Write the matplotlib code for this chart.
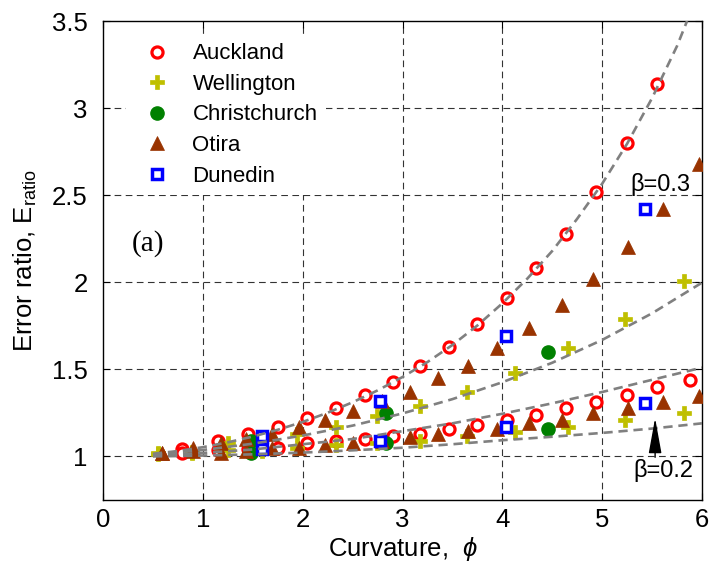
import matplotlib
matplotlib.use("Agg")
import matplotlib.pyplot as plt

plt.rcParams['font.family'] = ['Liberation Sans', 'DejaVu Sans']
plt.rcParams['mathtext.fontset'] = 'custom'
plt.rcParams['mathtext.rm'] = 'Liberation Sans'
plt.rcParams['mathtext.it'] = 'Liberation Sans:italic'

# ---------------- data ----------------
auck_x_up = [0.79, 1.15, 1.45, 1.75, 2.04, 2.33, 2.62, 2.90, 3.18, 3.47, 3.75, 4.05, 4.34, 4.64, 4.94, 5.25, 5.55]
auck_y_up = [1.04, 1.086, 1.13, 1.167, 1.218, 1.28, 1.35, 1.425, 1.52, 1.63, 1.76, 1.91, 2.08, 2.28, 2.52, 2.80, 3.14]
auck_x_lo = [0.79, 1.15, 1.45, 1.75, 2.04, 2.33, 2.62, 2.90, 3.18, 3.47, 3.75, 4.05, 4.34, 4.64, 4.94, 5.25, 5.55, 5.88]
auck_y_lo = [1.02, 1.035, 1.045, 1.05, 1.075, 1.086, 1.10, 1.12, 1.13, 1.155, 1.18, 1.21, 1.24, 1.276, 1.31, 1.35, 1.40, 1.44]

well_x = [0.55, 0.89, 1.25, 1.59, 1.94, 2.33, 2.74, 3.18, 3.65, 4.13, 4.66, 5.23, 5.82]
well_y_up = [1.02, 1.025, 1.075, 1.10, 1.126, 1.17, 1.23, 1.29, 1.37, 1.48, 1.62, 1.79, 2.01]
well_y_lo = [1.015, 1.02, 1.035, 1.03, 1.046, 1.063, 1.075, 1.086, 1.115, 1.14, 1.167, 1.21, 1.25]

chch_x = [1.48, 2.83, 4.46]
chch_y_up = [1.09, 1.25, 1.60]
chch_y_lo = [1.02, 1.075, 1.155]

otira_x = [0.59, 0.90, 1.18, 1.43, 1.69, 1.96, 2.22, 2.50, 2.79, 3.07, 3.36, 3.66, 3.95, 4.27, 4.60, 4.91, 5.26, 5.61, 5.97]
otira_y_up = [1.02, 1.046, 1.075, 1.10, 1.13, 1.17, 1.21, 1.26, 1.32, 1.37, 1.45, 1.52, 1.62, 1.74, 1.87, 2.02, 2.20, 2.42, 2.68]
otira_y_lo = [1.017, 1.03, 1.02, 1.03, 1.046, 1.05, 1.063, 1.075, 1.086, 1.11, 1.13, 1.144, 1.16, 1.19, 1.21, 1.25, 1.28, 1.31, 1.345]

dun_x = [1.59, 2.77, 4.04, 5.43]
dun_y_up = [1.115, 1.32, 1.69, 2.42]
dun_y_lo = [1.04, 1.086, 1.17, 1.305]

# dashed reference curves
c1_x = [0.5, 0.75, 1.0, 1.25, 1.5, 1.75, 2.0, 2.25, 2.5, 2.75, 3.0, 3.25, 3.5, 3.75, 4.0, 4.25, 4.5, 4.75, 5.0, 5.25, 5.5, 5.75, 5.85]
c1_y = [1.015, 1.031, 1.053, 1.081, 1.114, 1.153, 1.198, 1.251, 1.311, 1.379, 1.456, 1.542, 1.64, 1.752, 1.879, 2.021, 2.18, 2.365, 2.566, 2.796, 3.058, 3.357, 3.5]
c_x = [0.5, 1.0, 1.5, 2.0, 2.5, 3.0, 3.5, 4.0, 4.5, 5.0, 5.5, 6.0]
c2_y = [1.012, 1.037, 1.073, 1.12, 1.177, 1.247, 1.329, 1.426, 1.538, 1.669, 1.822, 1.998]
c3_y = [1.005, 1.02, 1.04, 1.07, 1.10, 1.145, 1.19, 1.245, 1.305, 1.37, 1.44, 1.51]
c4_y = [1.0, 1.005, 1.012, 1.022, 1.035, 1.05, 1.07, 1.093, 1.113, 1.135, 1.16, 1.19]

x_ticks = [0, 1, 2, 3, 4, 5, 6]
y_ticks = [1, 1.5, 2, 2.5, 3, 3.5]
y_ticklabels = ['1', '1.5', '2', '2.5', '3', '3.5']

# ---------------- figure ----------------
fig = plt.figure(figsize=(7.12, 5.76), dpi=100)
ax = fig.add_axes([0.1447, 0.132, 0.8413, 0.8315])

grid_kw = dict(color='#333333', lw=0.8, ls=(0, (6, 4)), zorder=0.5)
for xv in x_ticks[1:-1]:
    ax.axvline(xv, **grid_kw)
for yv in y_ticks[:-1]:
    ax.axhline(yv, **grid_kw)

red = '#FF0000'; yel = '#BFBF00'; grn = '#008000'; brn = '#993300'; blu = '#0000FF'

def pts(x, y, **kw):
    return ax.plot(x, y, ls='none', zorder=3, **kw)[0]

ka = dict(marker='o', ms=8, mfc='white', mec=red, mew=2.3)
kw_ = dict(marker='P', ms=9.5, mfc=yel, mec=yel, mew=0.5)
kc = dict(marker='o', ms=9.5, mfc=grn, mec=grn)
ko = dict(marker='^', ms=9.5, mfc=brn, mec=brn, mew=0.5)
kd = dict(marker='s', ms=6.5, mfc='white', mec=blu, mew=2.5)

h_a = pts(auck_x_up, auck_y_up, **ka); pts(auck_x_lo, auck_y_lo, **ka)
h_w = pts(well_x, well_y_up, **kw_); pts(well_x, well_y_lo, **kw_)
h_c = pts(chch_x, chch_y_up, **kc); pts(chch_x, chch_y_lo, **kc)
h_o = pts(otira_x, otira_y_up, **ko); pts(otira_x, otira_y_lo, **ko)
h_d = pts(dun_x, dun_y_up, **kd); pts(dun_x, dun_y_lo, **kd)

ckw = dict(color='#808080', lw=1.9, ls=(0, (3.5, 2.2)), zorder=4)
ax.plot(c1_x, c1_y, **ckw)
ax.plot(c_x, c2_y, **ckw)
ax.plot(c_x, c3_y, **ckw)
ax.plot(c_x, c4_y, **ckw)

ax.set_xlim(0, 6)
ax.set_ylim(0.75, 3.5)
ax.set_xticks(x_ticks)
ax.set_yticks(y_ticks)
ax.set_yticklabels(y_ticklabels)
ax.tick_params(direction='in', top=True, right=True, length=5, width=0.8,
               labelsize=18.5)
ax.tick_params(axis='y', pad=11)
ax.tick_params(axis='x', pad=6)
for s in ax.spines.values():
    s.set_linewidth(1.0)

ax.set_xlabel('Curvature,  $\\mathit{\\phi}$', fontsize=18.5, labelpad=2)
ax.set_ylabel('Error ratio, E$_{\\mathregular{ratio}}$', fontsize=18.5)
ax.yaxis.set_label_coords(-0.107, 0.5)

leg = ax.legend([h_a, h_w, h_c, h_o, h_d],
                ['Auckland', 'Wellington', 'Christchurch', 'Otira', 'Dunedin'],
                loc='upper left', bbox_to_anchor=(0.038, 0.972),
                fontsize=16, frameon=True, fancybox=False,
                edgecolor='none', facecolor='white', framealpha=1,
                borderaxespad=0.0, handletextpad=0.6, labelspacing=0.43,
                borderpad=0.4, handlelength=2.0)
leg.set_zorder(5)

ax.text(0.45, 2.22, '(a)', fontsize=21, family='Liberation Serif', ha='center', va='center', zorder=6)
ax.text(5.58, 2.56, 'β=0.3', fontsize=17, ha='center', va='center', zorder=6)
ax.text(5.61, 0.92, 'β=0.2', fontsize=17, ha='center', va='center', zorder=6)
ax.annotate('', xy=(5.53, 1.22), xytext=(5.53, 0.995),
            arrowprops=dict(arrowstyle='-|>,head_length=1.1,head_width=0.2',
                            mutation_scale=20, color='k', lw=1.0,
                            shrinkA=0, shrinkB=0), zorder=6)

fig.savefig('out.png', dpi=100)
